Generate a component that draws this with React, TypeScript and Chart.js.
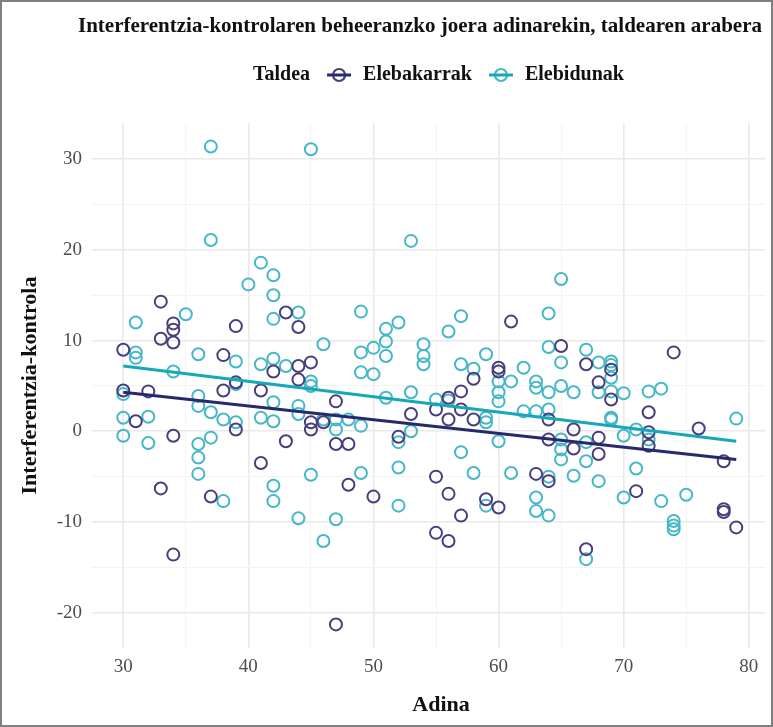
import React, { useEffect, useRef } from 'react';
import { Chart, registerables } from 'chart.js';

Chart.register(...registerables);

const chartTitle = 'Interferentzia-kontrolaren beheeranzko joera adinarekin, taldearen arabera';
const legendTitle = 'Taldea';
const groupLabels = ['Elebakarrak', 'Elebidunak'];
const xAxisTitle = 'Adina';
const yAxisTitle = 'Interferentzia-kontrola';

// Elebakarrak (monolingual)
const bakarAges = [
  30, 30, 31, 32, 33, 33, 33, 34, 34, 34, 34, 34, 37, 38, 38, 39, 39, 39,
  41, 41, 42, 43, 43, 44, 44, 44, 45, 45, 45, 46, 47, 47, 47, 48, 48, 50,
  52, 53, 55, 55, 55, 56, 56, 56, 56, 57, 57, 57, 58, 58, 59, 60, 60, 60,
  61, 63, 64, 64, 64, 65, 66, 66, 67, 67, 68, 68, 68, 69, 69, 71, 72, 72,
  72, 74, 76, 78, 78, 78, 79,
];
const bakarScores = [
  9.0, 4.5, 1.1, 4.4, 14.3, 10.2, -6.3, 11.9, 11.2, 9.8, -0.5, -13.6, -7.2, 8.4, 4.5, 11.6, 5.4, 0.2,
  4.5, -3.5, 6.6, 13.1, -1.1, 11.5, 7.2, 5.7, 7.6, 1.0, 0.2, 1.0, 3.3, -1.4, -21.3, -1.4, -5.9, -7.2,
  -0.6, 1.9, 2.4, -5.0, -11.2, 3.7, 1.3, -6.9, -12.1, 4.4, 2.4, -9.3, 5.8, 1.3, -7.5, 7.0, 6.6, -8.4,
  12.1, -4.7, 1.3, -0.9, -5.5, 9.4, 0.2, -1.9, 7.4, -13.0, 5.4, -0.7, -2.5, 6.8, 3.5, -6.6, 2.1, -0.1,
  -1.6, 8.7, 0.3, -3.3, -8.9, -8.6, -10.6,
];

// Elebidunak (bilingual)
const bidunAges = [
  30, 30, 30, 31, 31, 31, 32, 32, 34, 35, 36, 36, 36, 36, 36, 36, 37, 37, 37, 37,
  38, 38, 39, 39, 39, 40, 41, 41, 41, 42, 42, 42, 42, 42, 42, 42, 42, 43,
  44, 44, 44, 44, 45, 45, 45, 45, 46, 46, 46, 47, 47, 47, 48,
  49, 49, 49, 49, 49, 50, 50, 51, 51, 51, 51, 52, 52, 52, 52, 53, 53, 53,
  54, 54, 54, 55, 56, 56, 57, 57, 57, 58, 58, 59, 59, 59, 59, 60, 60, 60, 60,
  61, 61, 62, 62, 63, 63, 63, 63, 63, 64, 64, 64, 64, 64, 64,
  65, 65, 65, 65, 65, 65, 66, 66, 67, 67, 67, 67, 68, 68, 68,
  69, 69, 69, 69, 69, 69, 70, 70, 70, 71, 71, 72, 72, 73, 73, 74, 74, 74, 75, 79,
];
const bidunScores = [
  4.1, 1.5, -0.5, 12.0, 8.7, 8.1, 1.6, -1.3, 6.6, 12.9, 8.5, 3.9, 2.8, -1.4, -2.9, -4.7, 31.4, 21.1, 2.1, -0.7,
  1.3, -7.7, 7.7, 5.2, 1.0, 16.2, 18.6, 7.4, 1.5, 17.2, 15.0, 12.4, 8.0, 3.2, 1.1, -6.0, -7.7, 7.2,
  13.1, 2.8, 1.9, -9.6, 31.1, 5.5, 5.0, -4.8, 9.6, 1.3, -12.1, 1.3, 0.2, -9.7, 1.3,
  13.2, 8.7, 6.5, 0.6, -4.6, 9.2, 6.3, 11.3, 9.9, 8.3, 3.7, 12.0, -1.2, -4.0, -8.2, 21.0, 4.3, 0.0,
  9.6, 8.3, 7.4, 3.5, 11.0, 3.4, 12.7, 7.4, -2.3, 6.9, -4.6, 8.5, 1.5, 1.0, -8.2, 5.5, 4.3, 3.3, -1.1,
  5.5, -4.6, 7.0, 2.2, 5.5, 4.8, 2.2, -7.3, -8.8, 13.0, 9.3, 4.3, 2.4, -5.0, -9.3,
  16.8, 7.6, 5.0, -0.9, -2.0, -3.1, 4.3, -4.9, 9.0, -1.2, -3.3, -14.1, 7.6, 4.3, -5.5,
  7.7, 7.3, 5.9, 4.4, 1.5, 1.3, 4.2, -0.5, -7.3, 0.2, -4.1, 4.4, -0.9, 4.7, -7.7, -9.9, -10.4, -10.8, -7.0, 1.4,
];

// Linear trend endpoints
const trendAges = [30, 79];
const bakarTrend = [4.3, -3.1];
const bidunTrend = [7.2, -1.1];

const xRange = [27.5, 81.3];
const yRange = [-23.9, 34.0];

const COL_BAKAR_PT = '#4a3d7c';
const COL_BIDUN_PT = '#45b7c7';
const COL_BAKAR_LN = '#262a6c';
const COL_BIDUN_LN = '#16a8b8';
const SERIF = '"Liberation Serif", "DejaVu Serif", serif';

const toPts = (xs: number[], ys: number[]) => xs.map((x, i) => ({ x, y: ys[i] }));

const decorPlugin = {
  id: 'decor',
  beforeDraw(chart: any) {
    const ctx = chart.ctx;
    ctx.save();
    ctx.fillStyle = '#ffffff';
    ctx.fillRect(0, 0, chart.width, chart.height);
    ctx.restore();
  },
  afterDraw(chart: any) {
    const ctx = chart.ctx;
    ctx.save();
    // title
    ctx.fillStyle = '#111111';
    ctx.font = `bold 21px ${SERIF}`;
    ctx.textAlign = 'center';
    ctx.textBaseline = 'middle';
    ctx.fillText(chartTitle, 420, 27);

    // x axis title
    ctx.font = `bold 22px ${SERIF}`;
    ctx.fillText(xAxisTitle, 441, 705);

    // legend
    const ly = 75;
    ctx.textAlign = 'left';
    ctx.font = `bold 20px ${SERIF}`;
    let x = 253;
    ctx.fillText(legendTitle, x, ly);
    x += ctx.measureText(legendTitle).width + 17;
    const cols = [
      [COL_BAKAR_LN, COL_BAKAR_PT],
      [COL_BIDUN_LN, COL_BIDUN_PT],
    ];
    groupLabels.forEach((lab, i) => {
      const [lc, pc] = cols[i];
      ctx.strokeStyle = pc;
      ctx.lineWidth = 2.2;
      ctx.beginPath();
      ctx.arc(x + 12, ly, 6, 0, Math.PI * 2);
      ctx.stroke();
      ctx.strokeStyle = lc;
      ctx.lineWidth = 3;
      ctx.beginPath();
      ctx.moveTo(x, ly);
      ctx.lineTo(x + 24, ly);
      ctx.stroke();
      x += 24 + 12;
      ctx.fillStyle = '#111111';
      ctx.fillText(lab, x, ly);
      x += ctx.measureText(lab).width + 17;
    });

    // frame
    ctx.strokeStyle = '#808080';
    ctx.lineWidth = 2;
    ctx.strokeRect(1, 1, chart.width - 2, chart.height - 2);
    ctx.restore();
  },
};

const gridColor = (ctx: any) => {
  const v = ctx.tick ? ctx.tick.value : 0;
  return Math.abs(v % 10) < 1e-6 ? '#e9e9e9' : '#f3f3f3';
};
const gridWidth = (ctx: any) => {
  const v = ctx.tick ? ctx.tick.value : 0;
  return Math.abs(v % 10) < 1e-6 ? 1.6 : 1;
};

export default function App() {
  const ref = useRef<HTMLCanvasElement | null>(null);
  useEffect(() => {
    document.body.style.margin = '0';
    if (!ref.current) return;
    const chart = new Chart(ref.current, {
      type: 'scatter',
      data: {
        datasets: [
          {
            label: groupLabels[0],
            data: toPts(bakarAges, bakarScores),
            pointRadius: 6,
            pointBorderWidth: 2,
            pointBackgroundColor: 'rgba(0,0,0,0)',
            pointBorderColor: COL_BAKAR_PT,
            order: 2,
          },
          {
            label: groupLabels[1],
            data: toPts(bidunAges, bidunScores),
            pointRadius: 6,
            pointBorderWidth: 2,
            pointBackgroundColor: 'rgba(0,0,0,0)',
            pointBorderColor: COL_BIDUN_PT,
            order: 2,
          },
          {
            type: 'line',
            label: groupLabels[0] + ' trend',
            data: toPts(trendAges, bakarTrend),
            borderColor: COL_BAKAR_LN,
            borderWidth: 3,
            pointRadius: 0,
            showLine: true,
            fill: false,
            order: 1,
          } as any,
          {
            type: 'line',
            label: groupLabels[1] + ' trend',
            data: toPts(trendAges, bidunTrend),
            borderColor: COL_BIDUN_LN,
            borderWidth: 3,
            pointRadius: 0,
            showLine: true,
            fill: false,
            order: 1,
          } as any,
        ],
      },
      options: {
        responsive: false,
        animation: false,
        layout: { padding: { top: 123, right: 5, left: 0, bottom: 0 } },
        plugins: {
          legend: { display: false },
          title: { display: false },
          tooltip: { enabled: false },
        },
        scales: {
          x: {
            type: 'linear',
            min: xRange[0],
            max: xRange[1],
            afterFit: (s: any) => { s.height = 79; },
            border: { display: false },
            grid: { color: gridColor, lineWidth: gridWidth, drawTicks: false },
            ticks: {
              stepSize: 5,
              includeBounds: false,
              padding: 8,
              color: '#4d4d4d',
              font: { family: SERIF, size: 19 },
              callback: (v: any) => (Math.abs(v % 10) < 1e-6 ? String(v) : ''),
              maxRotation: 0,
              autoSkip: false,
            },
            title: { display: false },
          },
          y: {
            type: 'linear',
            min: yRange[0],
            max: yRange[1],
            afterFit: (s: any) => { s.width = 92; },
            border: { display: false },
            grid: { color: gridColor, lineWidth: gridWidth, drawTicks: false },
            ticks: {
              stepSize: 5,
              includeBounds: false,
              padding: 10,
              color: '#4d4d4d',
              font: { family: SERIF, size: 19 },
              callback: (v: any) => (Math.abs(v % 10) < 1e-6 ? String(v) : ''),
              autoSkip: false,
            },
            title: {
              display: true,
              text: yAxisTitle,
              color: '#111111',
              font: { family: SERIF, size: 22, weight: 'bold' },
              padding: { top: 17, bottom: 0 },
            },
          },
        },
      },
      plugins: [decorPlugin],
    });
    return () => chart.destroy();
  }, []);
  return (
    <div style={{ position: 'absolute', left: 0, top: 0, width: 773, height: 727 }}>
      <canvas ref={ref} width={773} height={727} style={{ display: 'block', width: 773, height: 727 }} />
    </div>
  );
}
